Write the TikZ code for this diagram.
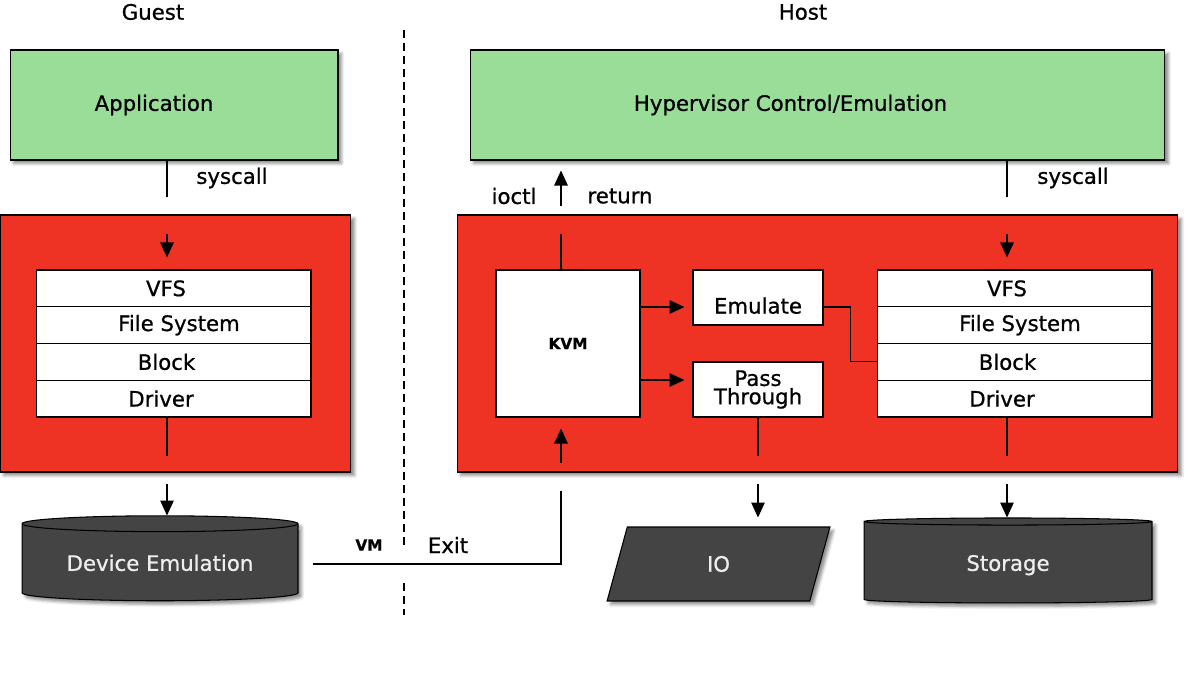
\documentclass[tikz,border=0pt]{standalone}
\usepackage{fontspec}
\setmainfont{DejaVu Sans}[FakeBold=0.8]
\usetikzlibrary{shapes.geometric, positioning, arrows.meta, calc, shadows.blur}
\definecolor{BDGreen}{RGB}{153,221,153}
\definecolor{BDRed}{RGB}{238,51,36}
\definecolor{BDDark}{RGB}{68,68,68}
% text moved sideways inside its box, box width kept
\newcommand{\sh}[2]{\hspace*{#1}#2\hspace*{-#1}}

\begin{document}
\begin{tikzpicture}[x=0.02cm, y=-0.02cm,
    txt/.style={font=\fontsize{12.1}{10.4}\selectfont, inner sep=0pt},
    small/.style={font=\fontsize{8.7}{10}\selectfont\bfseries, inner sep=0pt},
    shad/.style={blur shadow={shadow xshift=0.07cm, shadow yshift=-0.07cm,
                 shadow blur radius=0.06cm, shadow opacity=45}},
    box/.style={txt, rectangle, draw=black, line width=0.6pt, align=center},
    proc/.style={box, fill=BDGreen, shad, minimum height=2.2cm},
    grp/.style={rectangle, draw=black, line width=0.6pt, fill=BDRed, shad,
                minimum height=5.14cm},
    cell/.style={box, fill=white, minimum width=5.5cm, minimum height=0.735cm},
    disk/.style={txt, cylinder, shape border rotate=90, aspect=0.085,
                 draw=black, line width=0.6pt, fill=BDDark, text=white!93!black,
                 text height=1em, text depth=0.05em,
                 shad, minimum height=1.7cm},
    arr/.style={-{Triangle[length=0.3cm, width=0.27cm]}, line width=0.6pt},
    ln/.style={line width=0.6pt}
  ]
  \useasboundingbox (0,0) rectangle (1185,685);

  %--- headings ---
  \node[txt] (guest) at (153,12) {Guest};
  \node[txt] (host) at (803,12) {Host};

  %--- user space ---
  \node[proc, minimum width=6.56cm] (app) at (174,105) {\sh{-0.4cm}{Application}};
  \node[proc, minimum width=13.9cm] (hyper) at (817.5,105)
        {\sh{-0.54cm}{Hypervisor Control/Emulation}};

  %--- kernels ---
  \node[grp, minimum width=7.02cm] (gkern) at (175.5,343.5) {};
  \node[grp, minimum width=14.42cm] (hkern) at (817.5,343.5) {};

  \foreach \i/\t/\dx in {1/VFS/-0.15cm, 2/File System/0.11cm,
                         3/Block/-0.14cm, 4/Driver/-0.25cm} {
    \node[cell] (g\i) at (173.5, 251.625+36.75*\i) {\sh{\dx}{\t}};
    \node[cell] (h\i) at (1014.5, 251.625+36.75*\i) {\sh{\dx}{\t}};
  }

  \node[box, fill=white, minimum width=2.88cm, minimum height=2.94cm,
        font=\fontsize{8.7}{10}\selectfont\bfseries] (kvm) at (568,343.5) {KVM};
  \node[box, fill=white, minimum width=2.6cm, minimum height=1.1cm]
        (emu) at (758,297.5) {\raisebox{-0.16cm}[\height][0pt]{Emulate}};
  \node[box, fill=white, minimum width=2.6cm, minimum height=1.1cm]
        (pass) at (758,389.5) {Pass\\Through};

  %--- devices ---
  \node[disk, minimum width=5.52cm] (devemu) at (160,562.5) {Device Emulation};
  \node[disk, minimum width=5.76cm] (store) at (1008,562.5) {Storage};
  \node[txt, trapezium, trapezium left angle=81, trapezium right angle=99,
        trapezium stretches=true, draw=black, line width=0.6pt, fill=BDDark,
        text=white!93!black, shad, minimum width=4.46cm, minimum height=1.48cm]
        (io) at (718.5,564) {IO};

  %--- columns and rows of the connectors ---
  \coordinate (gcol) at (167,0);
  \coordinate (hcol) at (1007,0);
  \coordinate (kcol) at (561,0);
  \coordinate (erow) at (0,307);
  \coordinate (prow) at (0,380);

  %--- guest ---
  \draw[ln] (app.south -| gcol) -- ++(0,36);
  \node[txt] (gsys) at (232,178) {syscall};
  \draw[arr] ($(g1.north -| gcol)+(0,-35)$) -- ($(g1.north -| gcol)+(0,-12)$);
  \draw[ln] (g4.south -| gcol) -- ++(0,38);
  \draw[arr] ($(g4.south -| gcol)+(0,66)$) -- ($(g4.south -| gcol)+(0,98)$);

  %--- host ---
  \draw[ln] (hyper.south -| hcol) -- ++(0,36);
  \node[txt] (hsys) at (1073,178) {syscall};
  \draw[arr] ($(h1.north -| hcol)+(0,-35)$) -- ($(h1.north -| hcol)+(0,-12)$);
  \draw[ln] (h4.south -| hcol) -- ++(0,38);
  \draw[arr] ($(h4.south -| hcol)+(0,66)$) -- ($(h4.south -| hcol)+(0,100)$);

  %--- kvm ---
  \draw[ln] (kvm.north -| kcol) -- ++(0,-35);
  \draw[arr] ($(hyper.south -| kcol)+(0,45)$) -- ($(hyper.south -| kcol)+(0,10)$);
  \node[txt] (ioctl) at (514,196) {ioctl};
  \node[txt] (ret) at (620,196) {return};
  \draw[arr] (kvm.east |- erow) -- ($(emu.west |- erow)+(-8,0)$);
  \draw[arr] (kvm.east |- prow) -- ($(pass.west |- prow)+(-8,0)$);
  \draw[ln] (emu.east |- erow) -- ++(27,0) |- (h3.west);
  \draw[ln] (pass.south) -- ++(0,38);
  \draw[arr] ($(pass.south)+(0,66)$) -- ($(pass.south)+(0,100)$);

  %--- vm exit ---
  \draw[ln] ($(devemu.east)+(14,1.5)$) -| ($(kvm.south -| kcol)+(0,73)$);
  \draw[arr] ($(kvm.south -| kcol)+(0,45)$) -- ($(kvm.south -| kcol)+(0,11)$);
  \node[small] (vm) at (369,545) {VM};
  \node[txt] (exit) at (448,545) {Exit};

  %--- divider ---
  \draw[ln, dash pattern=on 0.16cm off 0.1cm] (404,30) -- (404,545);
  \draw[ln, dash pattern=on 0.16cm off 0.1cm] (404,583) -- (404,615);
\end{tikzpicture}
\end{document}
